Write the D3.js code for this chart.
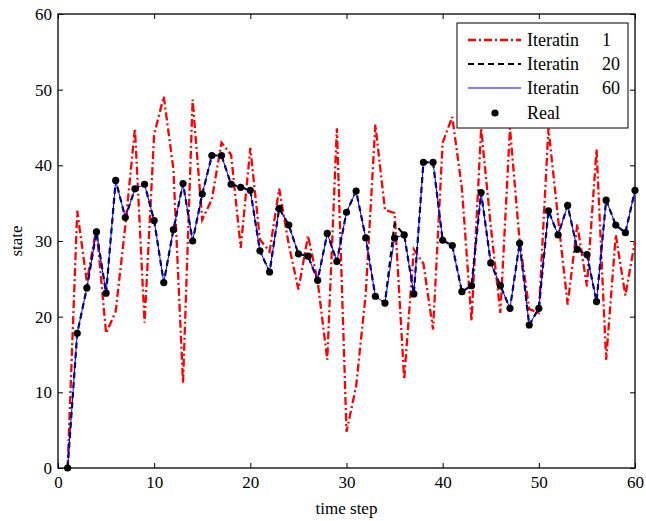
<!DOCTYPE html>
<html>
<head>
<meta charset="utf-8">
<script src="https://cdn.jsdelivr.net/npm/d3@7"></script>
<style>
  body { margin: 0; background: #fff; }
  svg text { font-family: "Liberation Serif", "Times New Roman", serif; fill: #000; }
</style>
</head>
<body>
<div id="chart"></div>
<script>
// time steps 1..60
var steps = d3.range(1, 61);

var iter1 = [0, 34.0, 24.6, 31.7, 17.8, 20.7, 32.0, 44.9, 19.2, 44.1,
  49.1, 39.5, 11.2, 48.7, 32.8, 35.5, 43.0, 41.4, 29.1, 42.3,
  30.2, 28.6, 36.9, 29.5, 23.6, 30.7, 24.7, 14.3, 44.9, 4.8,
  10.8, 23.0, 45.4, 34.1, 33.7, 11.7, 28.9, 27.0, 18.3, 43.0,
  46.4, 37.0, 19.4, 44.9, 32.0, 20.5, 44.9, 30.0, 21.0, 20.5,
  44.9, 33.0, 21.6, 32.2, 24.0, 42.1, 14.3, 30.8, 22.8, 30.0];

var iter20 = [0, 17.8, 23.8, 31.2, 23.1, 38.0, 33.1, 36.9, 37.5, 32.7,
  24.5, 31.5, 37.6, 30.0, 36.2, 41.3, 41.3, 37.5, 37.1, 36.7,
  28.7, 25.9, 34.3, 32.1, 28.3, 28.0, 24.8, 31.0, 27.3, 33.8,
  36.6, 30.4, 22.7, 21.8, 32.3, 30.8, 23.0, 40.4, 40.4, 30.1,
  29.4, 23.3, 24.1, 36.4, 27.1, 24.1, 21.1, 29.7, 18.9, 21.1,
  34.0, 30.8, 34.7, 28.9, 28.2, 22.0, 35.4, 32.1, 31.1, 36.7];

var iter60 = [0, 17.8, 23.8, 31.2, 23.1, 38.0, 33.1, 36.9, 37.5, 32.7,
  24.5, 31.5, 37.6, 30.0, 36.2, 41.3, 41.3, 37.5, 37.1, 36.7,
  28.7, 25.9, 34.3, 32.1, 28.3, 28.0, 24.8, 31.0, 27.3, 33.8,
  36.6, 30.4, 22.7, 21.8, 30.4, 30.8, 23.0, 40.4, 40.4, 30.1,
  29.4, 23.3, 24.1, 36.4, 27.1, 24.1, 21.1, 29.7, 18.9, 21.1,
  34.0, 30.8, 34.7, 28.9, 28.2, 22.0, 35.4, 32.1, 31.1, 36.7];

var real = [0, 17.8, 23.8, 31.2, 23.1, 38.0, 33.1, 36.9, 37.5, 32.7,
  24.5, 31.5, 37.6, 30.0, 36.2, 41.3, 41.3, 37.5, 37.1, 36.7,
  28.7, 25.9, 34.3, 32.1, 28.3, 28.0, 24.8, 31.0, 27.3, 33.8,
  36.6, 30.4, 22.7, 21.8, 30.4, 30.8, 23.0, 40.4, 40.4, 30.1,
  29.4, 23.3, 24.1, 36.4, 27.1, 24.1, 21.1, 29.7, 18.9, 21.1,
  34.0, 30.8, 34.7, 28.9, 28.2, 22.0, 35.4, 32.1, 31.1, 36.7];

var xTicks = [0, 10, 20, 30, 40, 50, 60];
var yTicks = [0, 10, 20, 30, 40, 50, 60];
var legendNames = ["Iteratin", "Iteratin", "Iteratin", "Real"];
var legendNums = ["1", "20", "60", ""];

var serif = '"Liberation Serif", "Times New Roman", serif';

var width = 646, height = 521;
var margin = {top: 14, right: 11, bottom: 53, left: 58};
var w = width - margin.left - margin.right,
    h = height - margin.top - margin.bottom;

var svg = d3.select("#chart").append("svg")
  .attr("width", width)
  .attr("height", height);

var g = svg.append("g")
  .attr("transform", "translate(" + margin.left + "," + margin.top + ")");

var x = d3.scaleLinear().domain([0, 60]).range([0, w]);
var y = d3.scaleLinear().domain([0, 60]).range([h, 0]);

// axes (MATLAB style box, inward ticks)
function styleAxis(sel) {
  sel.attr("font-family", null).attr("font-size", null);
  sel.select(".domain").remove();
  sel.selectAll("line").attr("stroke", "#000").attr("stroke-width", 1);
  sel.selectAll("text").style("font-size", "17px").style("font-family", serif);
}

g.append("g")
  .attr("transform", "translate(0," + h + ")")
  .call(d3.axisBottom(x).tickValues(xTicks).tickSize(-5).tickPadding(8))
  .call(styleAxis);
g.append("g")
  .call(d3.axisTop(x).tickValues(xTicks).tickSize(-5).tickFormat(""))
  .call(styleAxis);
g.append("g")
  .call(d3.axisLeft(y).tickValues(yTicks).tickSize(-5).tickPadding(6))
  .call(styleAxis);
g.append("g")
  .attr("transform", "translate(" + w + ",0)")
  .call(d3.axisRight(y).tickValues(yTicks).tickSize(-5).tickFormat(""))
  .call(styleAxis);

g.append("rect")
  .attr("width", w).attr("height", h)
  .attr("fill", "none").attr("stroke", "#000").attr("stroke-width", 1.3);

function lineOf(vals) {
  return d3.line()
    .x(function(d, i) { return x(steps[i]); })
    .y(function(d) { return y(d); })(vals);
}

g.append("path").attr("d", lineOf(iter1))
  .attr("fill", "none").attr("stroke", "#ff0000").attr("stroke-width", 2.3)
  .attr("stroke-dasharray", "8,3,2,3");
g.append("path").attr("d", lineOf(iter20))
  .attr("fill", "none").attr("stroke", "#000").attr("stroke-width", 2.2)
  .attr("stroke-dasharray", "6,4");
g.append("path").attr("d", lineOf(iter60))
  .attr("fill", "none").attr("stroke", "#0000ff").attr("stroke-width", 1);
g.selectAll("circle.real").data(real).enter().append("circle")
  .attr("class", "real")
  .attr("cx", function(d, i) { return x(steps[i]); })
  .attr("cy", function(d) { return y(d); })
  .attr("r", 3.6)
  .attr("fill", "#000");

// axis labels
svg.append("text")
  .attr("x", margin.left + w / 2).attr("y", 514)
  .attr("text-anchor", "middle").style("font-size", "17px").style("font-family", serif)
  .text("time step");
svg.append("text")
  .attr("transform", "translate(22," + (margin.top + h / 2) + ") rotate(-90)")
  .attr("text-anchor", "middle").style("font-size", "17px").style("font-family", serif)
  .text("state");

// legend
var lg = svg.append("g").attr("transform", "translate(457,23)");
lg.append("rect").attr("width", 171).attr("height", 105)
  .attr("fill", "#fff").attr("stroke", "#000").attr("stroke-width", 1);
var rowY = [17, 41, 65, 90];
var styles = [
  {stroke: "#ff0000", dash: "8,3,2,3", sw: 2.3},
  {stroke: "#000", dash: "6,4", sw: 2.2},
  {stroke: "#0000ff", dash: null, sw: 1}
];
styles.forEach(function(s, i) {
  lg.append("line").attr("x1", 11).attr("x2", 64)
    .attr("y1", rowY[i]).attr("y2", rowY[i])
    .attr("stroke", s.stroke).attr("stroke-width", s.sw)
    .attr("stroke-dasharray", s.dash);
});
lg.append("circle").attr("cx", 38).attr("cy", rowY[3]).attr("r", 3.6).attr("fill", "#000");
legendNames.forEach(function(n, i) {
  lg.append("text").attr("x", 70).attr("y", rowY[i] + 6)
    .style("font-size", "18px").style("font-family", serif).text(n);
  lg.append("text").attr("x", 145).attr("y", rowY[i] + 6)
    .style("font-size", "18px").style("font-family", serif).text(legendNums[i]);
});
</script>
</body>
</html>
